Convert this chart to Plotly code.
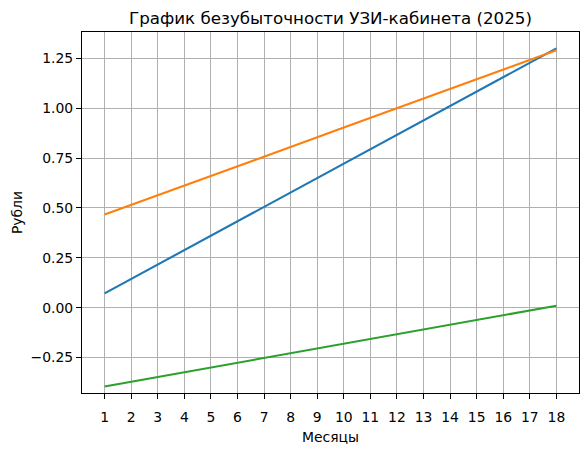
import plotly.graph_objects as go

months = list(range(1, 19))
revenue = [0.072, 0.144, 0.216, 0.289, 0.361, 0.433, 0.505, 0.578, 0.650,
           0.722, 0.794, 0.867, 0.939, 1.011, 1.083, 1.155, 1.228, 1.300]
costs = [0.467, 0.515, 0.564, 0.612, 0.661, 0.709, 0.757, 0.806, 0.854,
         0.903, 0.951, 0.999, 1.048, 1.096, 1.145, 1.193, 1.241, 1.290]
profit = [-0.395, -0.371, -0.348, -0.323, -0.300, -0.276, -0.252, -0.228, -0.204,
          -0.181, -0.157, -0.132, -0.109, -0.085, -0.062, -0.038, -0.013, 0.010]
y_ticks = [-0.25, 0.0, 0.25, 0.5, 0.75, 1.0, 1.25]

font = "DejaVu Sans"
fig = go.Figure()
for ys, col in [(revenue, "#1f77b4"), (costs, "#ff7f0e"), (profit, "#2ca02c")]:
    fig.add_trace(go.Scatter(x=months, y=ys, mode="lines",
                             line=dict(color=col, width=2.1), showlegend=False))

axis_common = dict(showline=True, linecolor="black", linewidth=1.1, mirror=True,
                   showgrid=True, gridcolor="#b0b0b0", gridwidth=1.1,
                   ticks="outside", ticklen=5, tickcolor="black", tickwidth=1.1,
                   zeroline=False, automargin=False,
                   tickfont=dict(family=font, size=13.9, color="black"))

fig.update_layout(
    width=587, height=455,
    margin=dict(l=82, r=8, t=32, b=62, autoexpand=False),
    paper_bgcolor="white", plot_bgcolor="white",
    font=dict(family=font, color="black"),
    title=dict(text="График безубыточности УЗИ-кабинета (2025)",
               font=dict(family=font, size=16.7, color="black"), automargin=False,
               x=0.5, xanchor="center", xref="paper",
               y=1 - 18.5 / 455, yref="container", yanchor="middle"),
    xaxis=dict(range=[0.15, 18.85], tickvals=months, ticktext=[str(m) for m in months],
               ticklabelstandoff=6,
               title=dict(text="Месяцы", font=dict(family=font, size=13.9), standoff=8),
               **axis_common),
    yaxis=dict(range=[-0.4275, 1.382], tickvals=y_ticks, tickformat=".2f",
               title=dict(text="Рубли", font=dict(family=font, size=13.9), standoff=4),
               **axis_common),
)
fig.write_html("out.html", config={"displayModeBar": False},
               post_script="document.body.style.margin='0';document.body.style.overflow='hidden';")
